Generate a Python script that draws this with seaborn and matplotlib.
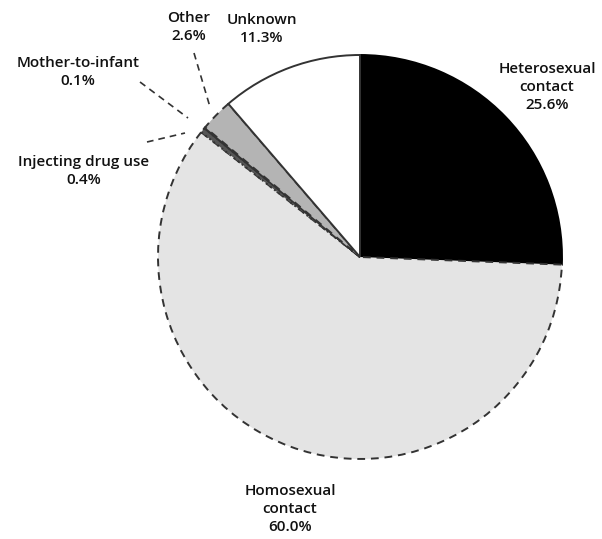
import matplotlib
matplotlib.use("Agg")
import matplotlib.pyplot as plt
import seaborn as sns

categories = ["Heterosexual\ncontact", "Homosexual\ncontact", "Injecting drug use",
              "Mother-to-infant", "Other", "Unknown"]
values = [25.6, 60.0, 0.4, 0.1, 2.6, 11.3]
pct_labels = ["25.6%", "60.0%", "0.4%", "0.1%", "2.6%", "11.3%"]
colors = ["#000000", "#e4e4e4", "#555555", "#111111", "#b4b4b4", "#ffffff"]

sns.set_theme(style="white")
plt.rcParams['font.family'] = ['Open Sans', 'DejaVu Sans']

W, H = 602, 539
CX, CY, R = 360, 257, 202

def px(x, y):
    return ((x - CX) / R, (CY - y) / R)

fig = plt.figure(figsize=(W / 100, H / 100), dpi=100)
ax = fig.add_axes([0, 0, 1, 1])
wedges, _ = ax.pie(values, colors=colors, startangle=90, counterclock=False,
                   radius=1.0, center=(0, 0),
                   wedgeprops=dict(edgecolor="#333333", linewidth=1.4))
styles = ["-", (0, (4, 3)), ":", "-", (0, (4, 3)), "-"]
for w, ls in zip(wedges, styles):
    w.set_linestyle(ls)
wedges[0].set_edgecolor("#000000")

ax.set_aspect("auto")
ax.set_xlim(-CX / R, (W - CX) / R)
ax.set_ylim((CY - H) / R, CY / R)
ax.axis("off")

# label positions (pixel centres) and leader lines
label_pos = [(547, 87), (290, 509), (84, 171), (78, 72), (189, 27), (262, 29)]
leaders = {2: ((147, 142), (185, 133)),
           3: ((140, 82), (188, 118)),
           4: ((194, 53), (210, 107))}

for i, (cat, pct) in enumerate(zip(categories, pct_labels)):
    x, y = px(*label_pos[i])
    ax.text(x, y, f"{cat}\n{pct}", ha="center", va="center", multialignment="center",
            fontsize=11, fontweight="semibold", color="#111111", linespacing=1.4)
    if i in leaders:
        (x0, y0), (x1, y1) = leaders[i]
        a, b = px(x0, y0)
        c, d = px(x1, y1)
        ax.plot([a, c], [b, d], color="#333333", linestyle=(0, (4, 3)), linewidth=1.2)

fig.savefig("out.png", dpi=100, facecolor="white")
